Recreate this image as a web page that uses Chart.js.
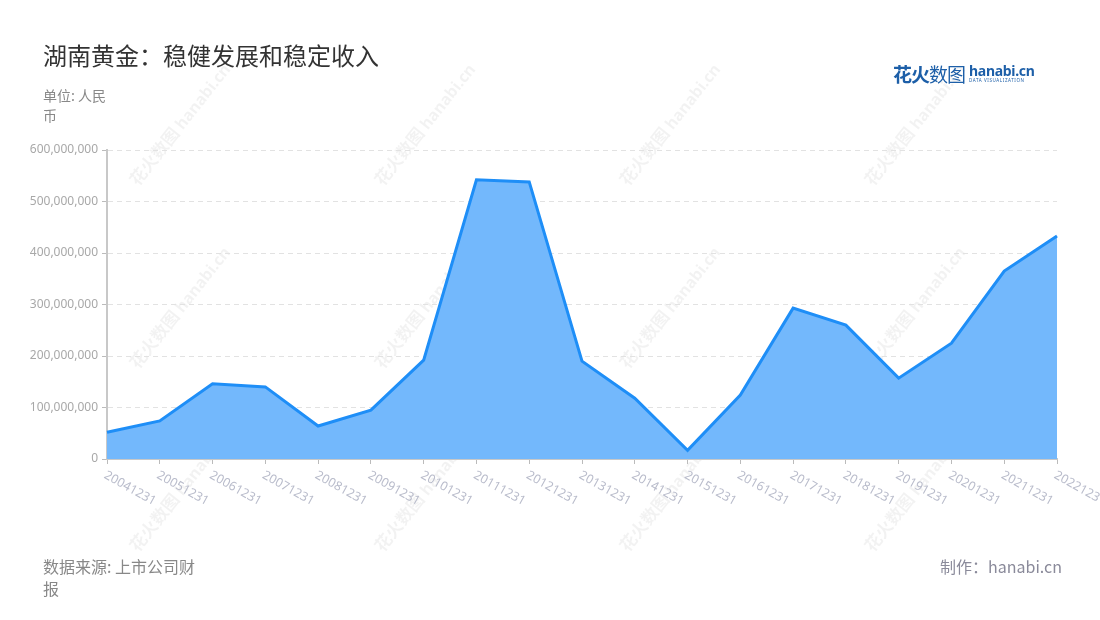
<!DOCTYPE html>
<html>
<head>
<meta charset="utf-8">
<script src="https://cdn.jsdelivr.net/npm/chart.js@4/dist/chart.umd.min.js"></script>
<style>
  body { margin: 0; background: #fff; font-family: "Noto Sans CJK SC", "Noto Sans", sans-serif; }
  #wrap { position: relative; width: 1100px; height: 620px; }
  #c { position: absolute; left: 0; top: 0; }
  .title { position: absolute; left: 43px; top: 37px; font-size: 24px; color: #333; }
  .unit { position: absolute; left: 43px; top: 85px; width: 68px; font-size: 14px; line-height: 20px; color: #888; }
  .source { position: absolute; left: 43px; top: 555px; width: 157px; font-size: 16px; line-height: 22px; color: #888; }
  .maker { position: absolute; right: 38px; top: 555px; font-size: 16px; line-height: 22px; color: #8a8a9a; }
  .logo { position: absolute; left: 893px; top: 60px; height: 26px; display: flex; align-items: center; }
  .logo .cn { font-size: 19px; font-weight: 700; color: #1d5fa8; letter-spacing: -1px; }
  .logo .cn span { font-weight: 400; }
  .logo .en { margin-left: 4px; line-height: 1; }
  .logo .en b { display: block; font-family: "Noto Sans", sans-serif; font-size: 14px; color: #1d5fa8; letter-spacing: -0.3px; }
  .logo .en i { display: block; font-style: normal; font-family: "Noto Sans", sans-serif; font-size: 4.5px; color: #1d5fa8; letter-spacing: 0.6px; }
</style>
</head>
<body>
<div id="wrap">
  <canvas id="c" width="1100" height="620"></canvas>
  <div class="title">湖南黄金：稳健发展和稳定收入</div>
  <div class="unit">单位: 人民币</div>
  <div class="logo"><div class="cn">花火<span>数图</span></div><div class="en"><b>hanabi.cn</b><i>DATA VISUALIZATION</i></div></div>
  <div class="source">数据来源: 上市公司财报</div>
  <div class="maker">制作：hanabi.cn</div>
</div>
<script>
const years = ['20041231','20051231','20061231','20071231','20081231','20091231','20101231',
  '20111231','20121231','20131231','20141231','20151231','20161231','20171231','20181231',
  '20191231','20201231','20211231','20221231'];
const revenue = [52e6, 74e6, 146e6, 140e6, 64e6, 95e6, 192e6, 542e6, 538e6, 190e6, 118e6,
  17e6, 124e6, 293e6, 260e6, 157e6, 225e6, 365e6, 433e6];

// faint watermark, drawn behind the chart
const watermark = {
  id: 'watermark',
  beforeDraw(chart) {
    const ctx = chart.ctx;
    ctx.save();
    ctx.fillStyle = 'rgba(0,0,0,0.05)';
    for (let col = 0; col < 4; col++) {
      for (let row = 0; row < 3; row++) {
        ctx.save();
        ctx.translate(138 + col * 245, 187 + row * 183);
        ctx.rotate(-0.9);
        ctx.font = 'bold 17px "Noto Sans CJK SC"';
        ctx.fillText('花火数图', 0, 0);
        ctx.font = 'bold 16px "Noto Sans"';
        ctx.fillText('hanabi.cn', 72, 0);
        ctx.restore();
      }
    }
    ctx.restore();
  }
};

// x labels rotated clockwise, starting at the tick
const slantLabels = {
  id: 'slantLabels',
  afterDraw(chart) {
    const ctx = chart.ctx;
    const xs = chart.scales.x;
    ctx.save();
    ctx.fillStyle = '#b9bccb';
    ctx.font = '12.5px "Noto Sans"';
    ctx.textAlign = 'left';
    ctx.textBaseline = 'top';
    years.forEach((lab, i) => {
      const x = xs.getPixelForValue(i);
      ctx.save();
      ctx.translate(x + 1, xs.top + 10);
      ctx.rotate(Math.PI / 6.2);
      ctx.fillText(lab, 0, 0);
      ctx.restore();
    });
    ctx.restore();
  }
};

new Chart(document.getElementById('c'), {
  type: 'line',
  data: {
    labels: years,
    datasets: [{
      data: revenue,
      borderColor: '#1e8ef7',
      backgroundColor: '#73b8fc',
      borderWidth: 3,
      fill: 'origin',
      pointRadius: 0,
      tension: 0
    }]
  },
  options: {
    responsive: false,
    animation: false,
    layout: { padding: { left: 0, top: 150, right: 43, bottom: 101 } },
    plugins: { legend: { display: false }, tooltip: { enabled: false } },
    scales: {
      x: {
        offset: false,
        afterFit: s => { s.height = 60; },
        grid: { display: true, drawOnChartArea: false, drawTicks: true, tickLength: 5, tickColor: '#bbb' },
        border: { color: '#c8c8c8', width: 2 },
        ticks: { display: false }
      },
      y: {
        min: 0, max: 600e6,
        afterFit: s => { s.width = 107; },
        ticks: {
          stepSize: 100e6,
          color: '#a8a8a8',
          font: { family: 'Noto Sans', size: 12 },
          padding: 4,
          callback: v => v.toLocaleString('en-US')
        },
        grid: { color: '#e2e2e2', tickColor: '#bbb', tickLength: 5, drawOnChartArea: true },
        border: { color: '#c8c8c8', width: 2, dash: [5, 4] }
      }
    }
  },
  plugins: [watermark, slantLabels]
});
</script>
</body>
</html>
